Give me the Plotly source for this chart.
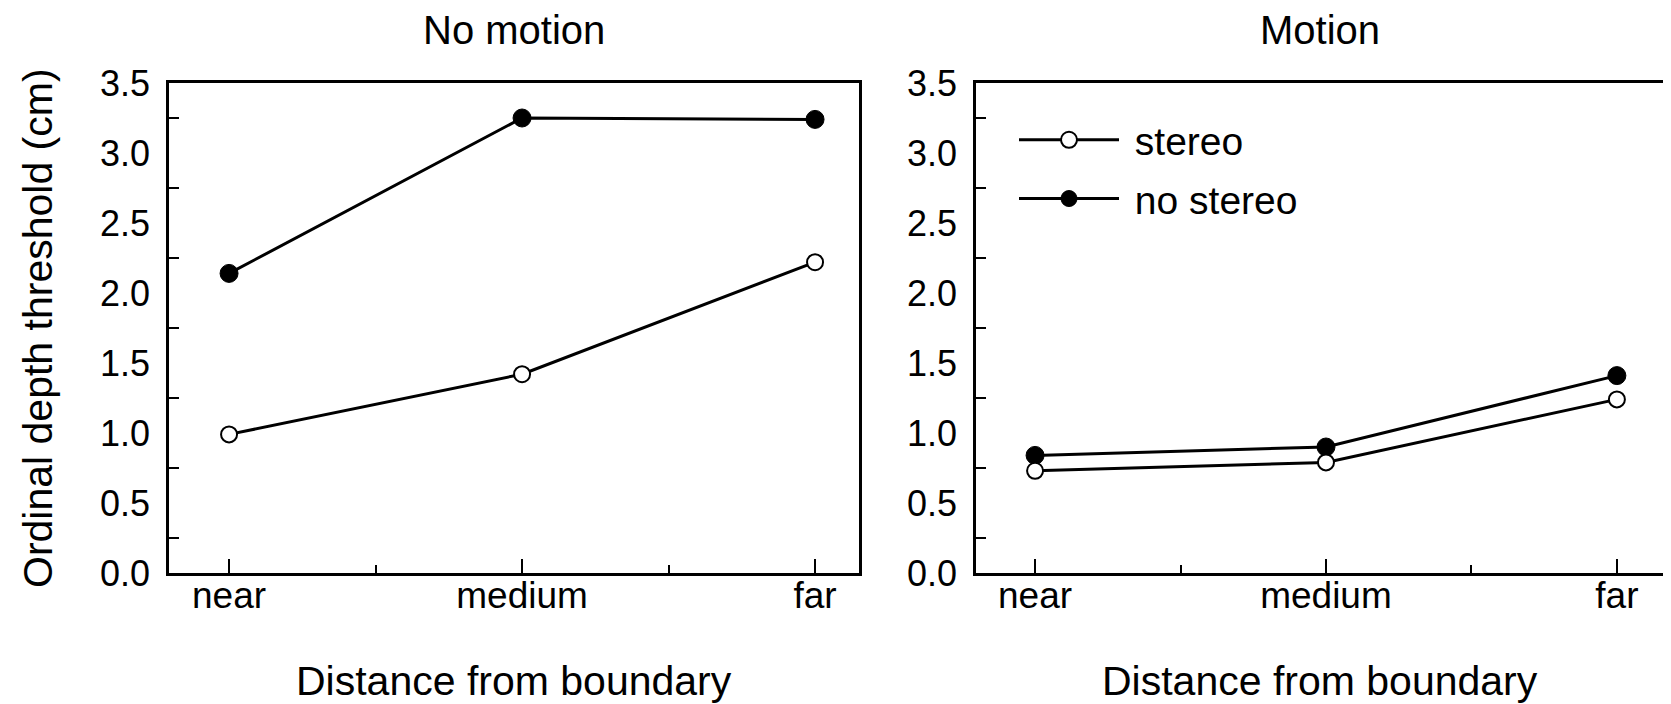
import plotly.graph_objects as go

categories = ["near", "medium", "far"]
no_motion_stereo = [0.99, 1.42, 2.22]
no_motion_no_stereo = [2.14, 3.25, 3.24]
motion_stereo = [0.73, 0.79, 1.24]
motion_no_stereo = [0.84, 0.90, 1.41]
y_ticks = [0.0, 0.5, 1.0, 1.5, 2.0, 2.5, 3.0, 3.5]
y_ticktext = ["0.0", "0.5", "1.0", "1.5", "2.0", "2.5", "3.0", "3.5"]
panel_titles = ["No motion", "Motion"]
x_title = "Distance from boundary"
y_title = "Ordinal depth threshold (cm)"

# page has 8px body margin; work in page coordinates and convert
OFF = 8
W, H = 1671 - OFF, 704 - OFF
ML = 169 - OFF
MT = 83 - OFF
MB = H - (573.5 - OFF)
MR = 0
PW = W - ML - MR
PH = H - MT - MB

FONT = "Liberation Sans, Arial, Helvetica, sans-serif"
xs = list(range(len(categories)))

open_marker = dict(symbol="circle", size=16, color="white", line=dict(color="black", width=2))
filled_marker = dict(symbol="circle", size=18, color="black", line=dict(color="black", width=1))
line_style = dict(color="black", width=3)

fig = go.Figure()
fig.add_trace(go.Scatter(x=xs, y=no_motion_no_stereo, mode="lines+markers", line=line_style,
                         marker=filled_marker, xaxis="x", yaxis="y", showlegend=False))
fig.add_trace(go.Scatter(x=xs, y=no_motion_stereo, mode="lines+markers", line=line_style,
                         marker=open_marker, xaxis="x", yaxis="y", showlegend=False))
fig.add_trace(go.Scatter(x=xs, y=motion_no_stereo, mode="lines+markers", line=line_style,
                         marker=filled_marker, xaxis="x2", yaxis="y2", name="\u00a0no stereo",
                         legendgroup="b", legendrank=2))
fig.add_trace(go.Scatter(x=xs, y=motion_stereo, mode="lines+markers", line=line_style,
                         marker=open_marker, xaxis="x2", yaxis="y2", name="\u00a0stereo",
                         legendgroup="a", legendrank=1))

def px_x(p):
    return (p - OFF - ML) / PW

def px_y(p):
    return 1 - (p - OFF - MT) / PH

d1 = [0, 690 / PW]
d2 = [px_x(976), 1.0]

def xaxis(domain, rng, anchor):
    return dict(domain=domain, range=rng, anchor=anchor,
                tickmode="array", tickvals=xs, ticktext=categories,
                ticks="inside", ticklen=14, tickwidth=2, tickcolor="black",
                minor=dict(tickmode="array", tickvals=[0.5, 1.5], ticks="inside",
                           ticklen=8, tickwidth=2, tickcolor="black"),
                showline=True, linewidth=2.5, linecolor="black", mirror=True,
                showgrid=False, zeroline=False, ticklabelstandoff=-12,
                tickfont=dict(family=FONT, size=37, color="black"))

def yaxis(anchor, mirror):
    return dict(domain=[0, 1], range=[0, 3.5], anchor=anchor,
                tickmode="array", tickvals=y_ticks, ticktext=y_ticktext,
                ticks="",
                minor=dict(tickmode="array", tickvals=[0.25, 0.75, 1.25, 1.75, 2.25, 2.75, 3.25],
                           ticks="inside", ticklen=10, tickwidth=2, tickcolor="black"),
                showline=True, linewidth=2.5, linecolor="black", mirror=mirror,
                showgrid=False, zeroline=False, ticklabelstandoff=9,
                tickfont=dict(family=FONT, size=36, color="black"))

fig.update_layout(
    width=W, height=H,
    margin=dict(l=ML, r=MR, t=MT, b=MB, autoexpand=False),
    paper_bgcolor="white", plot_bgcolor="white",
    xaxis=xaxis(d1, [-0.205, 2.15], "y"),
    yaxis=yaxis("x", True),
    xaxis2=xaxis(d2, [-0.203, 2.186], "y2"),
    yaxis2=yaxis("x2", False),
    showlegend=True,
    legend=dict(x=px_x(1014), y=px_y(108), xanchor="left", yanchor="top",
                bgcolor="rgba(0,0,0,0)", itemwidth=100, tracegroupgap=5,
                font=dict(family=FONT, size=39, color="black")),
)

ann = []
for title, cx in zip(panel_titles, [(d1[0] + d1[1]) / 2, px_x(1320)]):
    ann.append(dict(text=title, x=cx, y=px_y(30), xref="paper", yref="paper",
                    showarrow=False, xanchor="center", yanchor="middle",
                    font=dict(family=FONT, size=40, color="black")))
    ann.append(dict(text=x_title, x=cx, y=px_y(682), xref="paper", yref="paper",
                    showarrow=False, xanchor="center", yanchor="middle",
                    font=dict(family=FONT, size=41, color="black")))
ann.append(dict(text=y_title, x=px_x(38), y=0.5, xref="paper", yref="paper", textangle=-90,
                showarrow=False, xanchor="center", yanchor="middle",
                font=dict(family=FONT, size=41, color="black")))
fig.update_layout(annotations=ann)

fig.write_html("out.html")
